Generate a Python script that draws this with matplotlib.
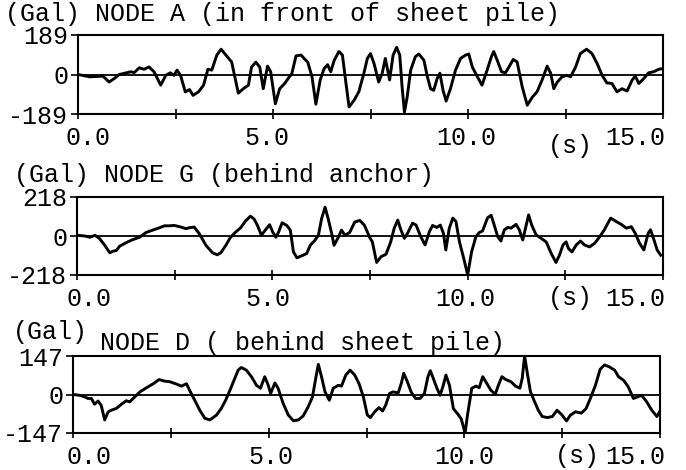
import numpy as np
import matplotlib
matplotlib.use("Agg")
import matplotlib.pyplot as plt
from matplotlib.transforms import ScaledTranslation

# ---- data (time in s, acceleration in Gal) ----
t_a = [0, 0.3, 0.64, 0.8, 0.93, 1.06, 1.19, 1.36, 1.44, 1.57, 1.69, 1.82, 1.95, 2.12, 2.25, 2.37,
       2.46, 2.54, 2.63, 2.75, 2.86, 2.95, 3.09, 3.22, 3.33, 3.43, 3.56, 3.67, 3.77, 3.94, 4.11, 4.24,
       4.37, 4.45, 4.56, 4.66, 4.75, 4.86, 4.94, 5.06, 5.17, 5.30, 5.42, 5.48, 5.59, 5.72, 5.82, 5.89,
       6.0, 6.1, 6.21, 6.31, 6.4, 6.48, 6.57, 6.69, 6.78, 6.86, 6.95, 7.08, 7.2, 7.33, 7.42, 7.5,
       7.59, 7.71, 7.8, 7.88, 7.99, 8.08, 8.17, 8.25, 8.31, 8.37, 8.44, 8.53, 8.65, 8.74, 8.87, 8.95,
       9.04, 9.12, 9.21, 9.28, 9.36, 9.44, 9.55, 9.68, 9.81, 9.94, 10.02, 10.11, 10.24, 10.36, 10.49,
       10.6, 10.66, 10.75, 10.86, 10.96, 11.05, 11.16, 11.26, 11.39, 11.52, 11.65, 11.77, 11.9, 12.03,
       12.12, 12.2, 12.29, 12.41, 12.54, 12.63, 12.76, 12.88, 13.04, 13.18, 13.31, 13.44, 13.56, 13.69,
       13.82, 13.95, 14.08, 14.21, 14.29, 14.38, 14.51, 14.63, 14.76, 14.89, 14.98]
acc_a = [0, -11, -8, -36, -19, 0, 6, 13, 9, 32, 25, 36, 13, -51, -4, 8,
         -4, 21, -4, -83, -72, -100, -83, -51, 25, 21, 93, 121, 98, 60, -89, -68,
         -51, 36, 59, 36, -68, 40, 13, -140, -68, -43, -11, 2, 89, 93, 72, 60,
         -11, -142, -26, 28, 47, 13, 68, 110, 93, -26, -155, -123, -83, 6, 77, 100,
         53, -36, 6, 77, -26, 93, 130, 93, -59, -180, -108, 21, 85, 98, 68, -4,
         -68, -76, -19, 6, -76, -127, -68, 21, 77, 93, 98, 36, -11, -51, 21,
         85, 110, 68, 13, 8, 36, 72, 60, -59, -147, -108, -83, -26, 40,
         6, -68, -36, -11, -4, -11, 36, 100, 121, 100, 53, -4, -40, -43,
         -83, -68, -79, -26, -8, -43, -19, 8, 13, 25, 28]

t_g = [0, 0.2, 0.33, 0.46, 0.58, 0.71, 0.84, 0.92, 1.01, 1.09, 1.26, 1.43, 1.6, 1.77, 1.94, 2.11,
       2.24, 2.36, 2.49, 2.66, 2.79, 2.87, 3.0, 3.13, 3.3, 3.47, 3.59, 3.68, 3.81, 3.93, 4.06, 4.19,
       4.31, 4.44, 4.53, 4.62, 4.72, 4.82, 4.93, 5.01, 5.09, 5.16, 5.25, 5.37, 5.46, 5.54, 5.63, 5.75,
       5.88, 5.97, 6.09, 6.18, 6.26, 6.35, 6.43, 6.52, 6.58, 6.69, 6.77, 6.86, 6.98, 7.11, 7.24, 7.36,
       7.49, 7.56, 7.67, 7.78, 7.91, 8.03, 8.12, 8.21, 8.29, 8.38, 8.46, 8.59, 8.68, 8.8, 8.91, 9.02,
       9.1, 9.21, 9.3, 9.38, 9.44, 9.53, 9.62, 9.7, 9.79, 9.9, 10.0, 10.1, 10.21, 10.3, 10.38, 10.51,
       10.6, 10.68, 10.77, 10.85, 10.94, 11.03, 11.11, 11.24, 11.32, 11.41, 11.5, 11.56, 11.64, 11.75,
       11.88, 12.01, 12.14, 12.26, 12.35, 12.44, 12.52, 12.58, 12.67, 12.78, 12.89, 12.99, 13.12,
       13.25, 13.38, 13.5, 13.66, 13.8, 13.93, 14.06, 14.19, 14.29, 14.4, 14.51, 14.62, 14.68, 14.77,
       14.85, 14.94]
acc_g = [4, 0, -7, 4, -15, -52, -94, -85, -81, -57, -37, -20, -7, 20, 33, 46,
         57, 57, 59, 50, 41, 46, 50, 13, -52, -94, -105, -94, -52, -7, 22, 46,
         83, 111, 96, 59, 4, 33, 63, 22, -7, 22, 74, 59, 33, -89, -122, -111,
         -98, -52, -24, 4, 96, 161, 96, 13, -52, -7, 33, 4, 20, 78, 87, 59,
         -7, -33, -148, -116, -102, -33, 44, 89, 35, -13, 15, 72, 61, -4, -50, 24,
         59, 48, 61, 15, -78, 44, 100, 81, -33, -126, -218, -89, -4, 20, 28, 102,
         116, 61, -4, -28, 35, 48, 44, 65, 35, -22, 61, 118, 61, 7,
         -13, -33, -98, -148, -107, -50, -33, -70, -89, -50, -28, -50, -61,
         -41, -4, 35, 100, 81, 65, 44, 52, 15, -41, -78, 15, 35, -22,
         -78, -107]

t_d = [0, 0.17, 0.3, 0.38, 0.47, 0.55, 0.64, 0.72, 0.81, 0.9, 0.98, 1.11, 1.24, 1.36, 1.45, 1.58,
       1.71, 1.88, 2.05, 2.2, 2.34, 2.47, 2.64, 2.77, 2.9, 2.98, 3.11, 3.24, 3.37, 3.5, 3.67, 3.79,
       3.9, 4.01, 4.13, 4.22, 4.3, 4.43, 4.56, 4.69, 4.79, 4.9, 4.99, 5.05, 5.16, 5.24, 5.37, 5.5,
       5.63, 5.76, 5.88, 6.01, 6.12, 6.21, 6.27, 6.35, 6.44, 6.55, 6.65, 6.78, 6.86, 6.97, 7.08, 7.2,
       7.31, 7.42, 7.52, 7.6, 7.71, 7.82, 7.91, 7.99, 8.09, 8.18, 8.31, 8.39, 8.45, 8.53, 8.64, 8.75,
       8.87, 8.98, 9.07, 9.13, 9.19, 9.3, 9.38, 9.45, 9.53, 9.62, 9.72, 9.83, 9.92, 10.02, 10.08,
       10.19, 10.3, 10.38, 10.47, 10.57, 10.68, 10.79, 10.87, 10.96, 11.06, 11.19, 11.31, 11.42,
       11.48, 11.54, 11.61, 11.69, 11.78, 11.89, 11.99, 12.12, 12.25, 12.37, 12.5, 12.61, 12.71,
       12.84, 12.99, 13.11, 13.22, 13.35, 13.47, 13.58, 13.7, 13.84, 13.94, 14.07, 14.19, 14.32,
       14.43, 14.53, 14.66, 14.79, 14.92, 14.99]
acc_d = [0, -3, -9, -15, -15, -37, -25, -41, -97, -66, -60, -53, -37, -24, -28, -9,
         10, 26, 41, 57, 51, 49, 40, 32, 41, 16, -22, -60, -91, -97, -78, -53,
         -22, 16, 60, 93, 103, 93, 68, 35, 24, 68, 35, 4, 44, 24, -34, -78,
         -100, -97, -82, -47, -9, 68, 115, 68, 10, -22, 24, 35, 32, 74, 93, 74,
         41, -9, -78, -88, -66, -50, -63, -41, 4, 10, 6, 43, 81, 54, 10, -15,
         -15, 4, 68, 91, 68, 24, -3, 29, 74, 35, -54, -74, -93, -147, -79,
         24, 32, 26, 68, 43, 16, 1, 35, 68, 57, 49, 32, 24,
         62, 147, 81, 10, -22, -60, -84, -88, -84, -60, -79, -101, -79,
         -66, -71, -54, -15, 35, 96, 113, 106, 93, 68, 54, 29, -15,
         -9, -3, -28, -60, -84, -66]

titles = ["(Gal) NODE A (in front of sheet pile)",
          "(Gal) NODE G (behind anchor)",
          "NODE D ( behind sheet pile)"]
limits = [189, 218, 147]
xticks = [0, 5, 10, 15]
xticklabels = ["0.0", "5.0", "10.0", "15.0"]

plt.rcParams['font.family'] = ['Liberation Mono', 'DejaVu Sans Mono']
FS = 18

fig = plt.figure(figsize=(6.86, 4.70), dpi=100)
W, H = 686.0, 470.0


def add_panel(x0, x1, ytop, ybot):
    return fig.add_axes([x0 / W, 1 - ybot / H, (x1 - x0) / W, (ybot - ytop) / H])


axes = [add_panel(78, 663, 35, 114),
        add_panel(77, 663, 197, 275),
        add_panel(73, 660, 356, 433)]
series = [(t_a, acc_a), (t_g, acc_g), (t_d, acc_d)]
# small horizontal nudges (pixels) of the x tick labels
label_shift = [[10, -6, -2, 2], [12, -4, -2, 2], [16, 2, 0, 5]]
# centre of the "(s)" unit label, pixels from top-left
s_pos = [(570, 146), (570, 298), (577, 456)]

for ax, (t, a), lim, shifts in zip(axes, series, limits, label_shift):
    ax.plot(t, a, color='black', lw=2.1, solid_joinstyle='round')
    ax.axhline(0, color='black', lw=1.3)
    ax.set_xlim(0, 15)
    ax.set_ylim(-lim, lim)
    for s in ax.spines.values():
        s.set_linewidth(1.5)
    ax.set_yticks([-lim, 0, lim])
    ax.set_yticklabels([str(-lim), "0", str(lim)], fontsize=FS)
    ax.set_xticks(xticks)
    ax.set_xticks([2.5, 7.5, 12.5], minor=True)
    ax.set_xticklabels(xticklabels, fontsize=FS)
    ax.tick_params(axis='y', direction='out', length=5, width=1.2, pad=2)
    ax.tick_params(axis='x', which='both', direction='inout', length=7, width=1.2, pad=5)
    labs = ax.get_xticklabels()
    labs[-1].set_ha('right')
    for lab, dx in zip(labs, shifts):
        lab.set_transform(lab.get_transform() + ScaledTranslation(dx / 100.0, 0, fig.dpi_scale_trans))

for (sx, sy) in s_pos:
    fig.text(sx / W, 1 - sy / H, "(s)", fontsize=FS, ha='center', va='center')

fig.text(5 / W, 1 - 14 / H, titles[0], fontsize=FS, ha='left', va='center')
fig.text(14 / W, 1 - 175 / H, titles[1], fontsize=FS, ha='left', va='center')
fig.text(13 / W, 1 - 332 / H, "(Gal)", fontsize=FS, ha='left', va='center')
fig.text(100 / W, 1 - 343 / H, titles[2], fontsize=FS, ha='left', va='center')

fig.savefig("out.png", dpi=100)
